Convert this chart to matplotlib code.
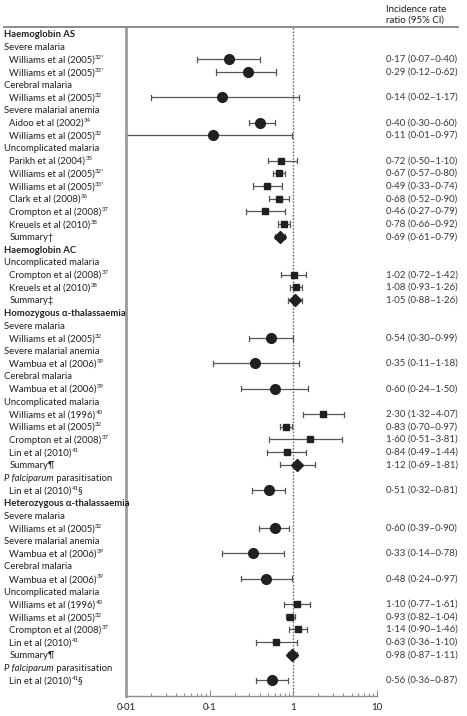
import matplotlib
matplotlib.use("Agg")
import matplotlib.pyplot as plt
import matplotlib.transforms as mtransforms
from matplotlib.lines import Line2D
import numpy as np

plt.rcParams['font.family'] = ['Lato', 'DejaVu Sans']

# level: 0 = genotype heading, 1 = outcome, 2 = study / summary
# "main|sup|tail" -> superscript reference after the study, "_x_" -> italic
labels = [
    "Haemoglobin AS", "Severe malaria",
    "Williams et al (2005)|32*", "Williams et al (2005)|33*",
    "Cerebral malaria", "Williams et al (2005)|32",
    "Severe malarial anemia", "Aidoo et al (2002)|34", "Williams et al (2005)|32",
    "Uncomplicated malaria", "Parikh et al (2004)|35",
    "Williams et al (2005)|32*", "Williams et al (2005)|33*",
    "Clark et al (2008)|36", "Crompton et al (2008)|37",
    "Kreuels et al (2010)|38", "Summary†",
    "Haemoglobin AC", "Uncomplicated malaria",
    "Crompton et al (2008)|37", "Kreuels et al (2010)|38", "Summary‡",
    "Homozygous α-thalassaemia", "Severe malaria", "Williams et al (2005)|32",
    "Severe malarial anemia", "Wambua et al (2006)|39",
    "Cerebral malaria", "Wambua et al (2006)|39",
    "Uncomplicated malaria", "Williams et al (1996)|40", "Williams et al (2005)|32",
    "Crompton et al (2008)|37", "Lin et al (2010)|41", "Summary¶",
    "_P falciparum_ parasitisation", "Lin et al (2010)|41|§",
    "Heterozygous α-thalassaemia", "Severe malaria", "Williams et al (2005)|32",
    "Severe malarial anemia", "Wambua et al (2006)|39",
    "Cerebral malaria", "Wambua et al (2006)|39",
    "Uncomplicated malaria", "Williams et al (1996)|40", "Williams et al (2005)|32",
    "Crompton et al (2008)|37", "Lin et al (2010)|41", "Summary¶",
    "_P falciparum_ parasitisation", "Lin et al (2010)|41|§",
]
levels = [0, 1, 2, 2, 1, 2, 1, 2, 2, 1, 2, 2, 2, 2, 2, 2, 2,
          0, 1, 2, 2, 2,
          0, 1, 2, 1, 2, 1, 2, 1, 2, 2, 2, 2, 2, 1, 2,
          0, 1, 2, 1, 2, 1, 2, 1, 2, 2, 2, 2, 2, 1, 2]

N = None
est = [N, N, 0.17, 0.29, N, 0.14, N, 0.40, 0.11, N, 0.72, 0.67, 0.49, 0.68, 0.46, 0.78, 0.69,
       N, N, 1.02, 1.08, 1.05,
       N, N, 0.54, N, 0.35, N, 0.60, N, 2.30, 0.83, 1.60, 0.84, 1.12, N, 0.51,
       N, N, 0.60, N, 0.33, N, 0.48, N, 1.10, 0.93, 1.14, 0.63, 0.98, N, 0.56]
lo = [N, N, 0.07, 0.12, N, 0.02, N, 0.30, 0.01, N, 0.50, 0.57, 0.33, 0.52, 0.27, 0.66, 0.61,
      N, N, 0.72, 0.93, 0.88,
      N, N, 0.30, N, 0.11, N, 0.24, N, 1.32, 0.70, 0.51, 0.49, 0.69, N, 0.32,
      N, N, 0.39, N, 0.14, N, 0.24, N, 0.77, 0.82, 0.90, 0.36, 0.87, N, 0.36]
hi = [N, N, 0.40, 0.62, N, 1.17, N, 0.60, 0.97, N, 1.10, 0.80, 0.74, 0.90, 0.79, 0.92, 0.79,
      N, N, 1.42, 1.26, 1.26,
      N, N, 0.99, N, 1.18, N, 1.50, N, 4.07, 0.97, 3.81, 1.44, 1.81, N, 0.81,
      N, N, 0.90, N, 0.78, N, 0.97, N, 1.61, 1.04, 1.46, 1.10, 1.11, N, 0.87]
# o = circle, s = square, D = summary diamond
kinds = [N, N, 'o', 'o', N, 'o', N, 'o', 'o', N, 's', 's', 's', 's', 's', 's', 'D',
         N, N, 's', 's', 'D',
         N, N, 'o', N, 'o', N, 'o', N, 's', 's', 's', 's', 'D', N, 'o',
         N, N, 'o', N, 'o', N, 'o', N, 's', 's', 's', 's', 'D', N, 'o']

W, H = 467, 716
fig = plt.figure(figsize=(W / 100, H / 100), dpi=100)
ax = fig.add_axes([126 / W, 1 - 696 / H, (376.7 - 126) / W, (696 - 27) / H])

txt = '#231f20'
grey = '#8f8f8f'
marker_size = {'o': 7.0, 's': 4.0, 'D': 6.0}

rows = np.arange(1, len(labels) + 1)
for r, e, l, h, k in zip(rows, est, lo, hi, kinds):
    if e is None:
        continue
    ax.plot([l, h], [r, r], color='#555555', lw=0.9, solid_capstyle='butt', zorder=2)
    for c in (l, h):
        if c > 0.0101:
            ax.plot([c, c], [r - 0.2, r + 0.2], color='#555555', lw=0.9, zorder=2)
    ax.plot(e, r, marker=k, ms=marker_size[k], color=txt, mec=txt, zorder=3)

ax.axvline(1, color='#6a6a6a', lw=1.0, ls=(0, (1.2, 1.2)), zorder=1)

ax.set_xscale('log')
ax.set_xlim(0.01, 10)
ax.set_ylim(53.25, 0.45)
ax.set_xticks([0.01, 0.1, 1, 10])
ax.set_xticklabels(['0·01', '0·1', '1', '10'])
ax.set_yticks([])
ax.tick_params(axis='x', which='major', direction='in', length=4, width=0.8, color=grey,
               labelsize=7, labelcolor=txt, pad=5)
ax.tick_params(axis='x', which='minor', direction='in', length=2.5, width=0.8, color=grey)
for s in ('top', 'right'):
    ax.spines[s].set_visible(False)
ax.spines['left'].set_color('#9a9a9a')
ax.spines['left'].set_linewidth(2.0)
ax.spines['bottom'].set_color(grey)
ax.spines['bottom'].set_linewidth(1.0)
ax.patch.set_visible(False)

# full-width rule under the header
fig.add_artist(Line2D([4 / W, 458 / W], [1 - 27 / H] * 2, transform=fig.transFigure,
                      color='#8a8a8a', lw=1.4))

renderer = fig.canvas.get_renderer()
trans = mtransforms.blended_transform_factory(fig.transFigure, ax.transData)
FS = 6.8


def put(x_px, r, s, dy=0, **kw):
    t = fig.text(x_px / W, r, s, transform=mtransforms.offset_copy(trans, fig, y=dy, units='dots'),
                 ha='left', va='baseline', color=txt, **kw)
    return x_px + t.get_window_extent(renderer).width


# baseline offset so that the text sits centred on the row
base_dy = -3.3
for r, lab, lev in zip(rows, labels, levels):
    x = 4 if lev < 2 else 9
    if lab.startswith('Summary'):
        x = 10
    if lab.startswith('_'):
        _, ital, rest = lab.split('_')
        x = put(x, r, ital, base_dy, fontsize=FS, style='italic')
        put(x, r, rest, base_dy, fontsize=FS)
        continue
    parts = lab.split('|')
    x = put(x, r, parts[0], base_dy, fontsize=FS, fontweight='bold' if lev == 0 else 'normal')
    if len(parts) > 1:
        x = put(x + 0.5, r, parts[1], base_dy + 3.6, fontsize=4.3)
    if len(parts) > 2:
        put(x - 1.2, r, parts[2], base_dy, fontsize=FS)

for r, e, l, h in zip(rows, est, lo, hi):
    if e is None:
        continue
    s = f"{e:.2f} ({l:.2f}–{h:.2f})".replace('.', '·')
    fig.text(386 / W, r, s, transform=trans, ha='left', va='center', fontsize=7, color='#3a3a3a')

fig.text(386 / W, 1 - 9 / H, "Incidence rate", ha='left', va='center', fontsize=7, color=txt)
fig.text(386 / W, 1 - 20 / H, "ratio (95% CI)", ha='left', va='center', fontsize=7, color=txt)

fig.savefig("out.png", dpi=100)
